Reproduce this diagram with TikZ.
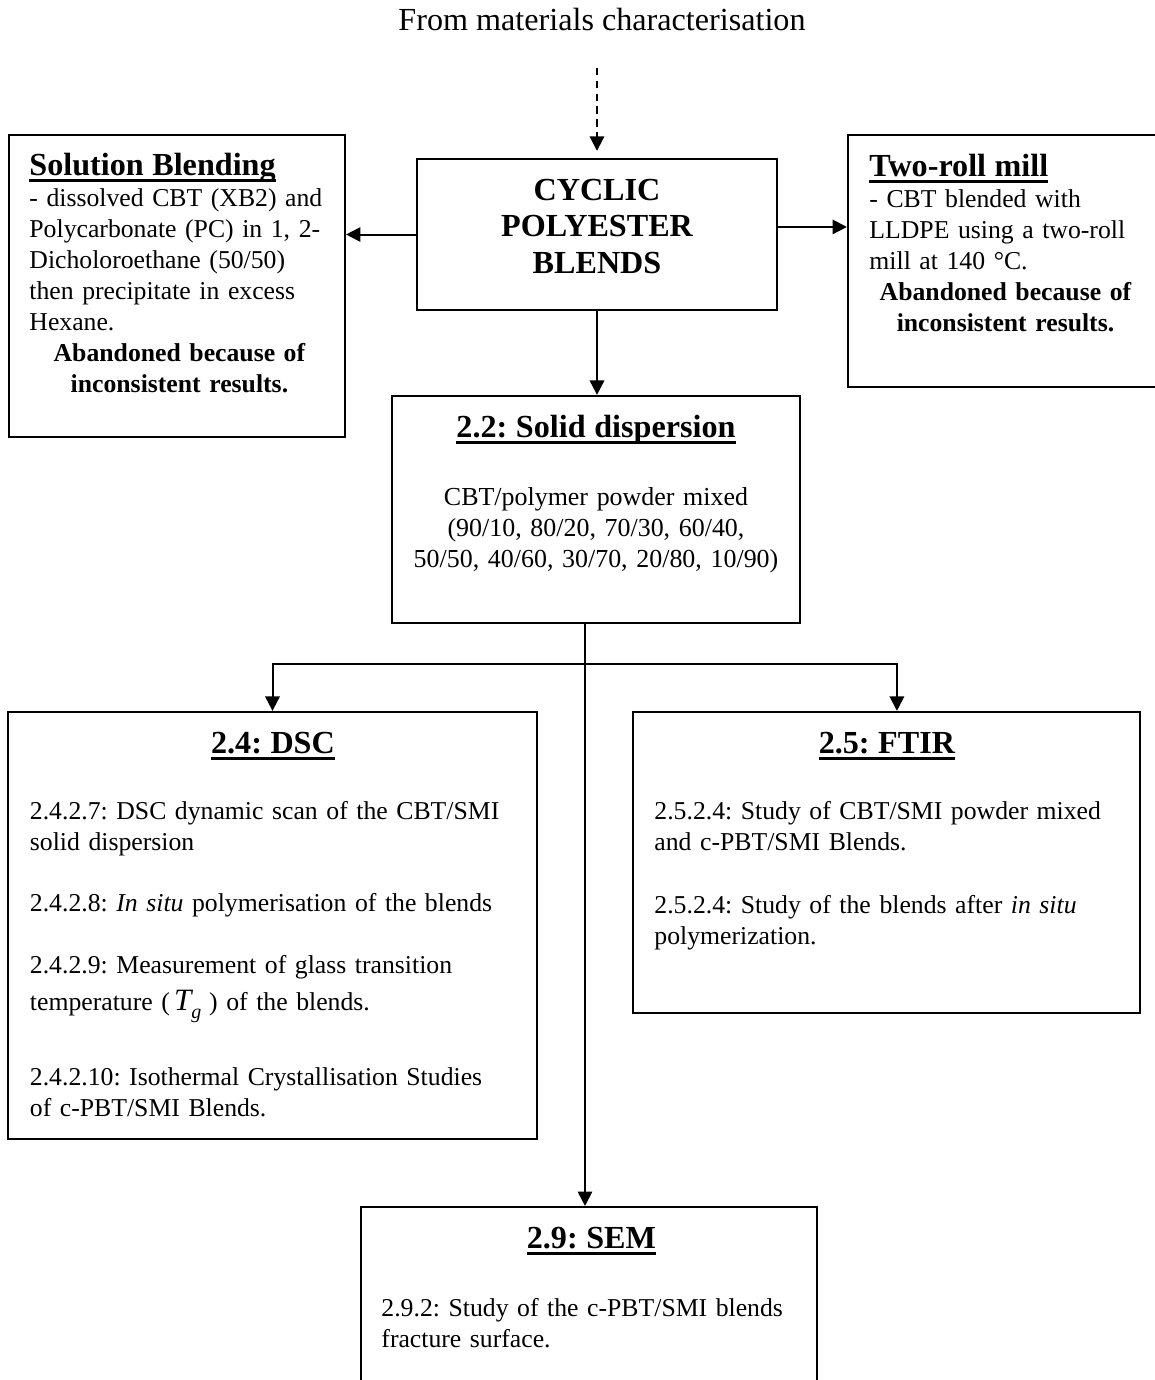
\documentclass[tikz,border=0pt]{standalone}
\usepackage{fontspec}
\setmainfont{Liberation Serif}
\usepackage{tikz}
\usetikzlibrary{arrows.meta, calc}

\newcommand{\ulhead}[1]{{\fontsize{14.5}{16}\selectfont\bfseries\setbox0\hbox{#1}\rlap{\rule[-3.3pt]{\wd0}{1.5pt}}\box0}}
\newcommand{\tglass}{{\fontsize{14}{14}\selectfont\itshape T}\raisebox{-3.5pt}{\fontsize{9}{9}\selectfont\itshape g}}
\frenchspacing

\begin{document}
\begin{tikzpicture}[
  x=0.451pt, y=-0.451pt,
  box/.style={rectangle, draw=black, line width=1pt, inner sep=0pt},
  boxtext/.style={inner sep=0pt, font=\fontsize{11.6}{14}\selectfont},
  arrow/.style={-{Triangle[length=6.5pt,width=6.5pt]}, line width=0.9pt, draw=black},
  dashedarrow/.style={arrow, dash pattern=on 3.4pt off 2.4pt}
]
\useasboundingbox (0,0) rectangle (1155,1380);

% Nodes
\node[boxtext, font=\fontsize{14.5}{16}\selectfont, anchor=base] (title) at (602,30) {From materials characterisation};

\node[box, minimum width=162.4pt, minimum height=68.1pt] (cyclic) at (597,234.5) {};
\node[box, minimum width=151.5pt, minimum height=136.2pt] (solution) at (177,286) {};
\node[box, minimum width=139.8pt, minimum height=113.7pt] (tworoll) at (1003,261) {};
\node[box, minimum width=184pt, minimum height=102.4pt] (solid) at (596,509.5) {};
\node[box, minimum width=238.6pt, minimum height=192.6pt] (dsc) at (272.5,925.5) {};
\node[box, minimum width=228.7pt, minimum height=135.8pt] (ftir) at (886.5,862.5) {};
\node[box, minimum width=205.7pt, minimum height=83.4pt] (sem) at (589,1299.5) {};

% Box texts
\node[boxtext, font=\fontsize{14.5}{16.5}\selectfont\bfseries, text width=153pt, align=center, anchor=base] (cyclic-text) at (597,200) {CYCLIC\\POLYESTER\\BLENDS};
\node[boxtext, text width=135.3pt, align=left, anchor=base west] (solution-text) at (29,175) {\ulhead{Solution Blending}\\
- dissolved CBT (XB2) and\\
Polycarbonate (PC) in 1, 2-\\
Dicholoroethane (50/50)\\
then precipitate in excess\\
Hexane.\par
{\centering\bfseries Abandoned because of\\inconsistent results.\par}};
\node[boxtext, text width=122.7pt, align=left, anchor=base west] (tworoll-text) at (869,176) {\ulhead{Two-roll mill}\\
- CBT blended with\\
LLDPE using a two-roll\\
mill at 140 °C.\par
{\centering\bfseries Abandoned because of\\inconsistent results.\par}};
\node[boxtext, font=\fontsize{11.7}{14}\selectfont, text width=171pt, align=center, anchor=base] (solid-text) at (596,437) {\ulhead{2.2: Solid dispersion}\\[16.7pt]
CBT/polymer powder mixed\\
(90/10, 80/20, 70/30, 60/40,\\
50/50, 40/60, 30/70, 20/80, 10/90)};
\node[boxtext, text width=219.2pt, align=left, anchor=base west] (dsc-text) at (29.5,753) {{\centering\ulhead{2.4: DSC}\par}\vspace{15.8pt}
2.4.2.7: DSC dynamic scan of the CBT/SMI\\
solid dispersion\\[13.5pt]
2.4.2.8: \textit{In situ} polymerisation of the blends\\[14pt]
2.4.2.9: Measurement of glass transition\\[3pt]
temperature (\,\tglass\hspace{3.5pt}) of the blends.\\[19.8pt]
2.4.2.10: Isothermal Crystallisation Studies\\
of c-PBT/SMI Blends.};
\node[boxtext, text width=209.7pt, align=left, anchor=base west] (ftir-text) at (654,753) {{\centering\ulhead{2.5: FTIR}\par}\vspace{15.8pt}
2.5.2.4: Study of CBT/SMI powder mixed\\
and c-PBT/SMI Blends.\\[14.4pt]
2.5.2.4: Study of the blends after \textit{in situ}\\
polymerization.};
\node[boxtext, text width=189.4pt, align=left, anchor=base west] (sem-text) at (381,1248) {{\centering\ulhead{2.9: SEM}\par}\vspace{16.7pt}
2.9.2: Study of the c-PBT/SMI blends\\
fracture surface.};

\coordinate (branch) at (585,664);

% Arrows
\draw[dashedarrow, shorten <=16.7pt, shorten >=3.2pt] (title.south -| cyclic.north) -- (cyclic.north);
\draw[arrow] (cyclic.west) -- (cyclic.west -| solution.east);
\draw[arrow] ([yshift=3.4pt]cyclic.east) -- ([yshift=3.4pt]cyclic.east -| tworoll.west);
\draw[arrow] (cyclic.south) -- (cyclic.south |- solid.north);
\draw[arrow] (branch |- solid.south) -- (branch |- sem.north);
\draw[arrow] (branch) -| (dsc.north);
\draw[arrow] (branch) -| ([xshift=4.7pt]ftir.north);

\end{tikzpicture}
\end{document}
